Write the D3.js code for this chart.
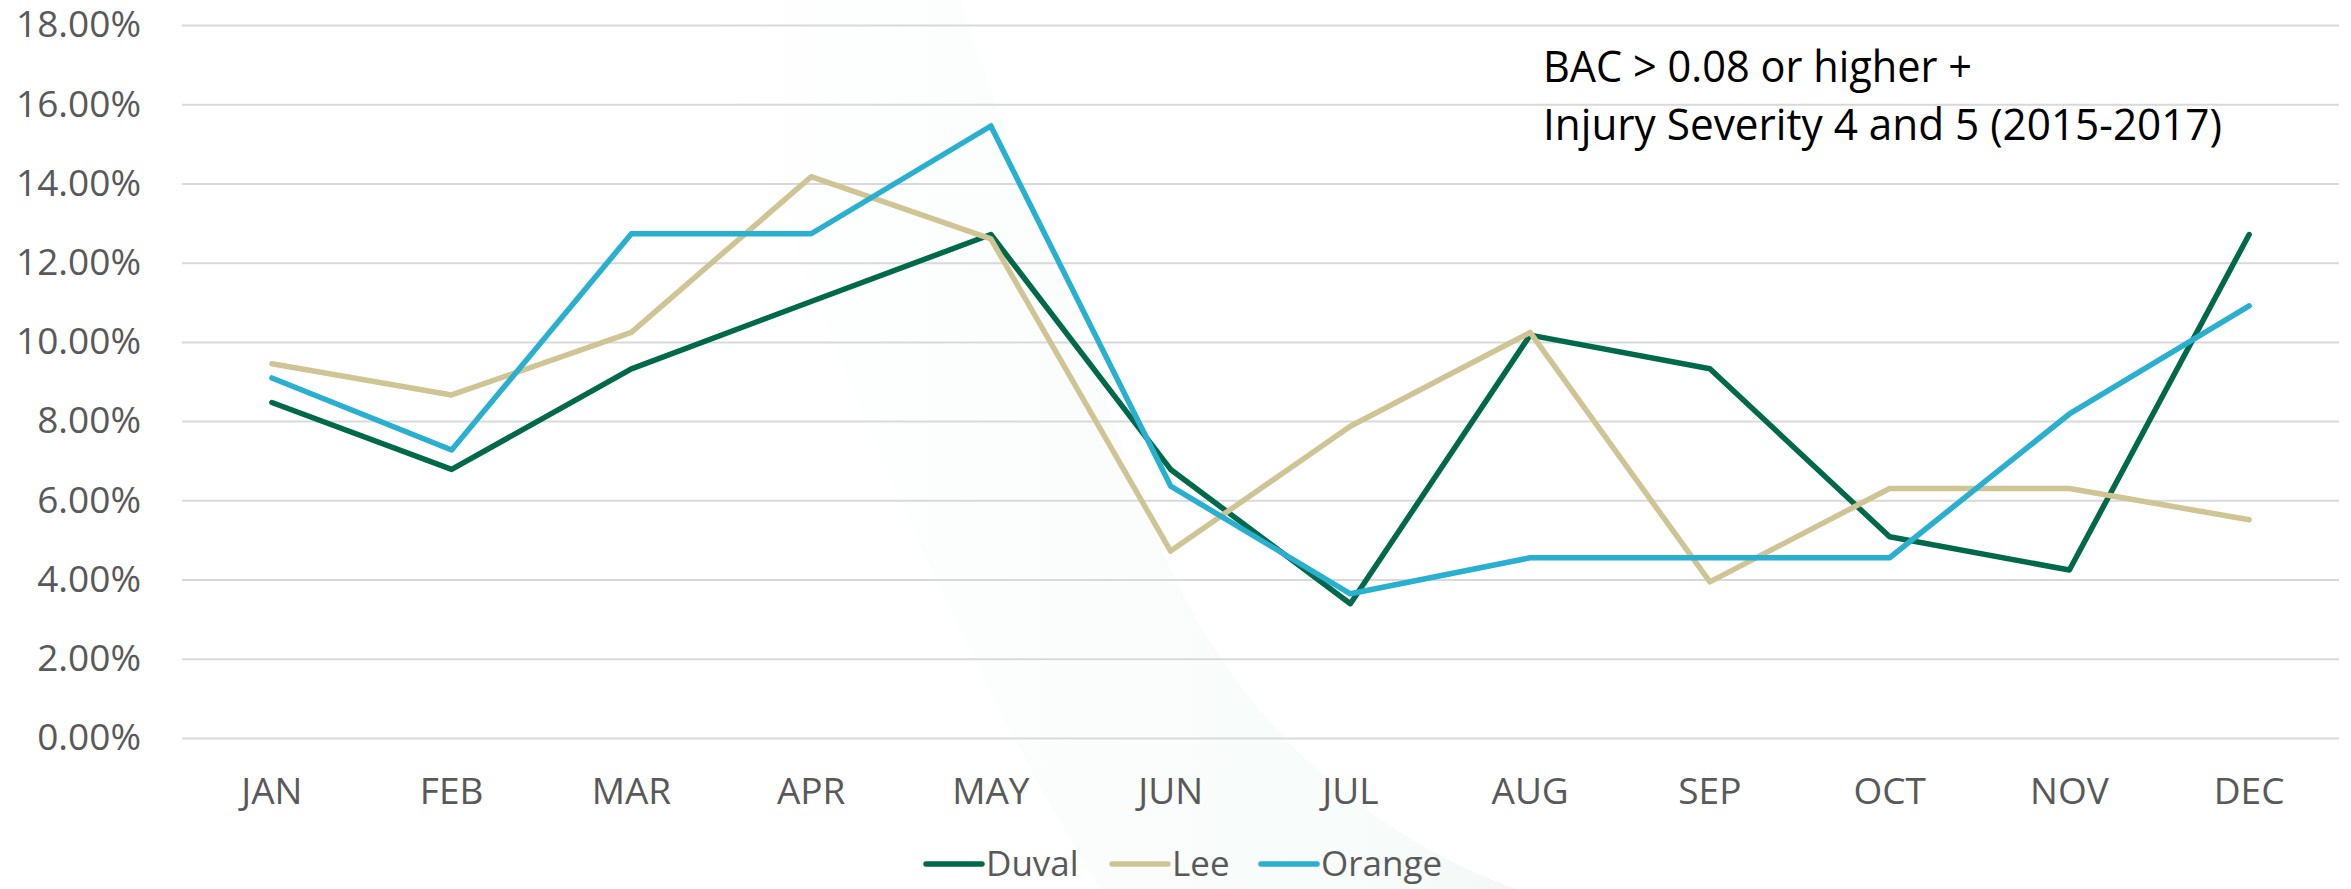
<!DOCTYPE html>
<html>
<head>
<meta charset="utf-8">
<script src="https://cdn.jsdelivr.net/npm/d3@7"></script>
<style>
  html, body { margin: 0; padding: 0; background: #fff; }
  svg { display: block; font-family: "Open Sans", sans-serif; }
  .axis text { fill: #595959; font-size: 37px; font-family: "Open Sans", sans-serif; }
  .yAxis line { stroke: #d9d9d9; stroke-width: 2; }
  .legend text { fill: #595959; font-size: 35px; font-family: "Open Sans", sans-serif; }
</style>
</head>
<body>
<svg id="main" width="2351" height="889"></svg>
<script>
// data (percent)
var months = ["JAN", "FEB", "MAR", "APR", "MAY", "JUN", "JUL", "AUG", "SEP", "OCT", "NOV", "DEC"];
var duval  = [8.47, 6.78, 9.32, 11.02, 12.71, 6.78, 3.39, 10.17, 9.32, 5.08, 4.24, 12.71];
var lee    = [9.45, 8.66, 10.24, 14.17, 12.60, 4.72, 7.87, 10.24, 3.94, 6.30, 6.30, 5.51];
var orange = [9.09, 7.27, 12.73, 12.73, 15.45, 6.36, 3.64, 4.55, 4.55, 4.55, 8.18, 10.91];
var seriesNames = ["Duval", "Lee", "Orange"];
var colors = ["#00694a", "#cfc493", "#29afd0"];
var yTicks = [0, 2, 4, 6, 8, 10, 12, 14, 16, 18];
var titleLines = ["BAC > 0.08 or higher +", "Injury Severity 4 and 5 (2015-2017)"];

var series = [duval, lee, orange];

var svg = d3.select("#main"),
    margin = {top: 25, right: 12, bottom: 151, left: 182},
    width = +svg.attr("width") - margin.left - margin.right,
    height = +svg.attr("height") - margin.top - margin.bottom;

// faint decorative swoosh behind the plot
var defs = svg.append("defs");
var grad = defs.append("linearGradient")
    .attr("id", "swoosh")
    .attr("x1", "0").attr("y1", "0").attr("x2", "1").attr("y2", "0");
grad.append("stop").attr("offset", "0").attr("stop-color", "#f6fbfa").attr("stop-opacity", 0);
grad.append("stop").attr("offset", "0.8").attr("stop-color", "#f6fbfa").attr("stop-opacity", 0.8);
grad.append("stop").attr("offset", "1").attr("stop-color", "#f3f7f6").attr("stop-opacity", 1);
svg.append("path")
    .attr("d", "M700,0 L960,0 C1010,150 1080,330 1150,520 C1210,680 1330,820 1515,889 L1100,889 C950,650 820,320 700,0 Z")
    .attr("fill", "url(#swoosh)");

var xScale = d3.scaleBand()
        .domain(months)
        .range([0, width]),
    yScale = d3.scaleLinear()
        .domain([0, 18])
        .range([height, 0]),
    g = svg.append("g")
        .attr("transform", "translate(" + margin.left + "," + margin.top + ")");

g.append("g")
    .attr("class", "axis yAxis")
    .call(d3.axisLeft(yScale)
        .tickValues(yTicks)
        .tickSize(-width)
        .tickPadding(41)
        .tickFormat(function(d) { return d3.format(".2f")(d) + "%"; }))
    .call(function(a) { a.select(".domain").remove(); });

g.append("g")
    .attr("class", "axis xAxis")
    .attr("transform", "translate(0," + height + ")")
    .call(d3.axisBottom(xScale).tickSize(0).tickPadding(40))
    .call(function(a) { a.select(".domain").remove(); });

var line = d3.line()
    .x(function(d, i) { return xScale(months[i]) + xScale.bandwidth() / 2; })
    .y(function(d) { return yScale(d); });

g.selectAll(".line")
    .data(series)
    .enter().append("path")
    .attr("class", "line")
    .attr("fill", "none")
    .attr("stroke", function(d, i) { return colors[i]; })
    .attr("stroke-width", 5.5)
    .attr("stroke-linecap", "round")
    .attr("stroke-linejoin", "round")
    .attr("d", line);

// title text box
var title = svg.append("text")
    .attr("fill", "#000")
    .style("font-size", "44px");
var titleWidths = [429, 679];
titleLines.forEach(function(t, i) {
    title.append("tspan")
        .attr("x", 1543)
        .attr("y", 82 + i * 58)
        .attr("textLength", titleWidths[i])
        .attr("lengthAdjust", "spacingAndGlyphs")
        .text(t);
});

// legend
var legendX = [926, 1112, 1261];
var legend = svg.append("g").attr("class", "legend");
var item = legend.selectAll("g")
    .data(seriesNames)
    .enter().append("g")
    .attr("transform", function(d, i) { return "translate(" + legendX[i] + ",864)"; });
item.append("line")
    .attr("x1", 0).attr("x2", 56)
    .attr("stroke", function(d, i) { return colors[i]; })
    .attr("stroke-width", 5.5)
    .attr("stroke-linecap", "round");
item.append("text")
    .attr("x", 60)
    .attr("dy", "0.35em")
    .text(function(d) { return d; });
</script>
</body>
</html>
